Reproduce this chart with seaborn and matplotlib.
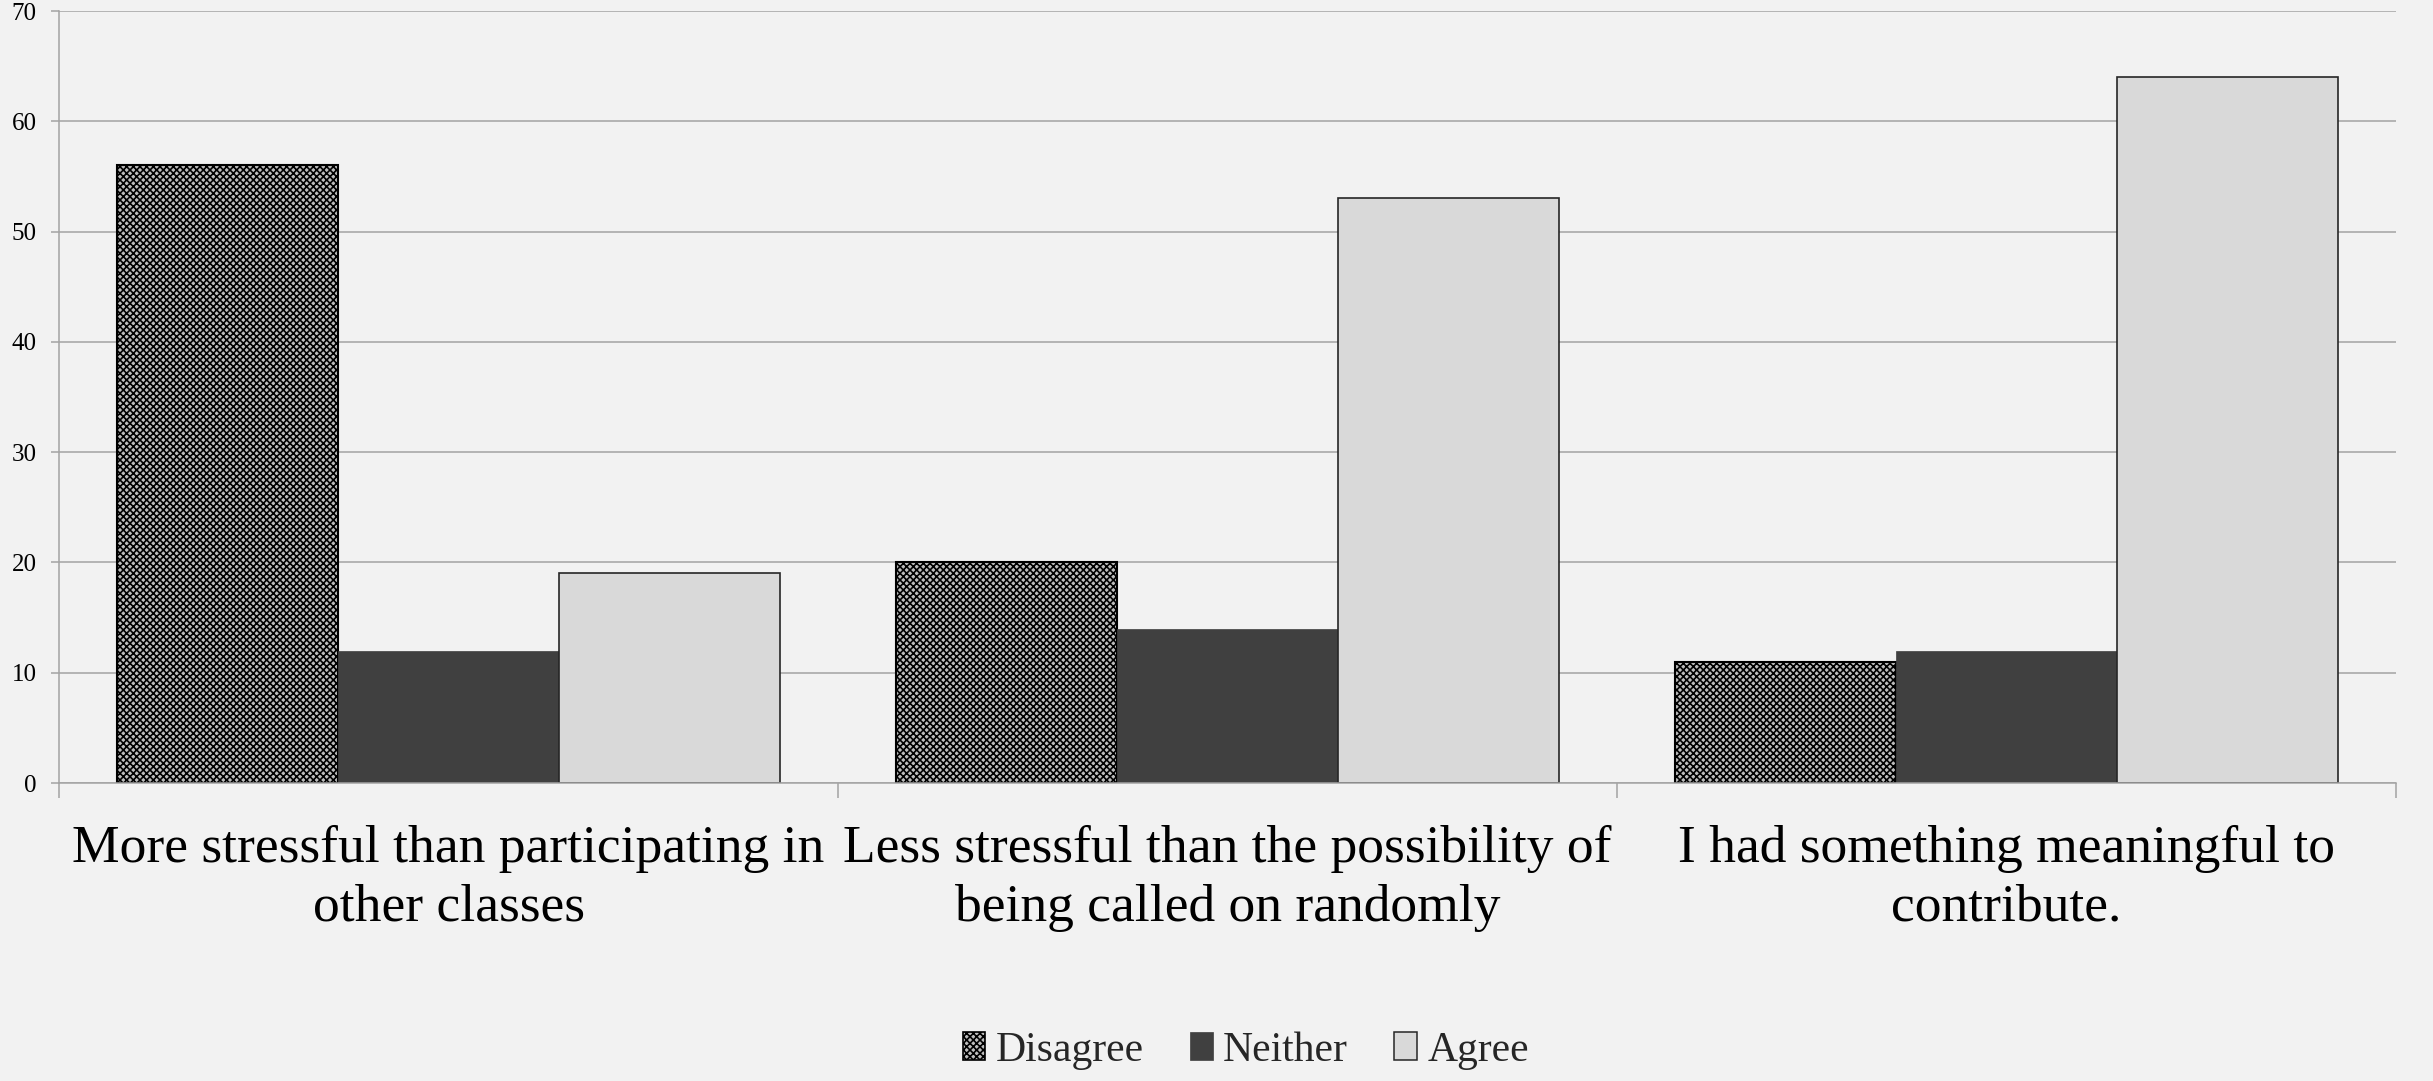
import matplotlib
matplotlib.use("Agg")
import matplotlib.pyplot as plt
from matplotlib.patches import Patch
import seaborn as sns
import pandas as pd

# Survey statements and response counts
statements = [
    "More stressful than participating in\nother classes",
    "Less stressful than the possibility of\nbeing called on randomly",
    "I had something meaningful to\ncontribute.",
]
responses = ["Disagree", "Neither", "Agree"]
disagree = [56, 20, 11]
neither = [12, 14, 12]
agree = [19, 53, 64]

df = pd.DataFrame({
    "Statement": statements * 3,
    "Response": [r for r in responses for _ in statements],
    "Count": disagree + neither + agree,
})

sns.set_theme(style="white")
plt.rcParams["font.family"] = ["Liberation Serif", "DejaVu Serif"]
plt.rcParams["hatch.linewidth"] = 1.2
plt.rcParams["hatch.color"] = "#1a1a1a"

BG = "#f2f2f2"
GRID = "#a3a3a3"
fill = {"Disagree": "#bdbdbd", "Neither": "#404040", "Agree": "#d9d9d9"}
edges = {"Disagree": "#000000", "Neither": "#404040", "Agree": "#262626"}
edge_w = {"Disagree": 1.5, "Neither": 0.5, "Agree": 1.2}

fig = plt.figure(figsize=(24.33, 10.81), dpi=100, facecolor=BG)
ax = fig.add_axes([0.02425, 0.27567, 0.96055, 0.71415], facecolor=BG)

sns.barplot(data=df, x="Statement", y="Count", hue="Response",
            order=statements, hue_order=responses, palette=fill,
            width=0.85, saturation=1, legend=False, ax=ax)

for resp, cont in zip(responses, ax.containers):
    for bar in cont.patches:
        bar.set_edgecolor(edges[resp])
        bar.set_linewidth(edge_w[resp])
        if resp == "Disagree":
            bar.set_hatch("xxxxx")

ax.set_xlim(-0.5, len(statements) - 0.5)
ax.set_ylim(0, 70)
ax.set_yticks(range(0, 71, 10))
ax.set_axisbelow(True)
ax.yaxis.grid(True, color=GRID, linewidth=1.1)
ax.xaxis.grid(False)

for side in ("top", "right"):
    ax.spines[side].set_visible(False)
for side in ("left", "bottom"):
    ax.spines[side].set_color(GRID)
    ax.spines[side].set_linewidth(1.1)

# Category labels centred under each group, tick marks at group boundaries
ax.set_xticks(range(len(statements)))
ax.set_xticklabels(statements, fontsize=38.5, linespacing=1.3)
ax.tick_params(axis="x", which="major", length=0, pad=30, colors="black")
ax.set_xticks([i - 0.5 for i in range(len(statements) + 1)], minor=True)
ax.tick_params(axis="x", which="minor", length=11, width=1.1, color=GRID,
               direction="out", bottom=True)
ax.tick_params(axis="y", length=6, width=1.1, color=GRID, direction="out",
               labelsize=18, labelcolor="black", pad=10, left=True)

ax.set_xlabel("")
ax.set_ylabel("")

handles = [
    Patch(facecolor=fill["Disagree"], edgecolor=edges["Disagree"],
          linewidth=1.2, hatch="xxxxx", label="Disagree"),
    Patch(facecolor=fill["Neither"], edgecolor=edges["Neither"],
          linewidth=0.5, label="Neither"),
    Patch(facecolor=fill["Agree"], edgecolor=edges["Agree"],
          linewidth=1.1, label="Agree"),
]
fig.legend(handles=handles, loc="center", bbox_to_anchor=(0.512, 0.028),
           ncol=3, frameon=False, fontsize=30, handlelength=0.55,
           handleheight=0.65, handletextpad=0.25, columnspacing=1.1)

fig.savefig("out.png", dpi=100, facecolor=BG)
